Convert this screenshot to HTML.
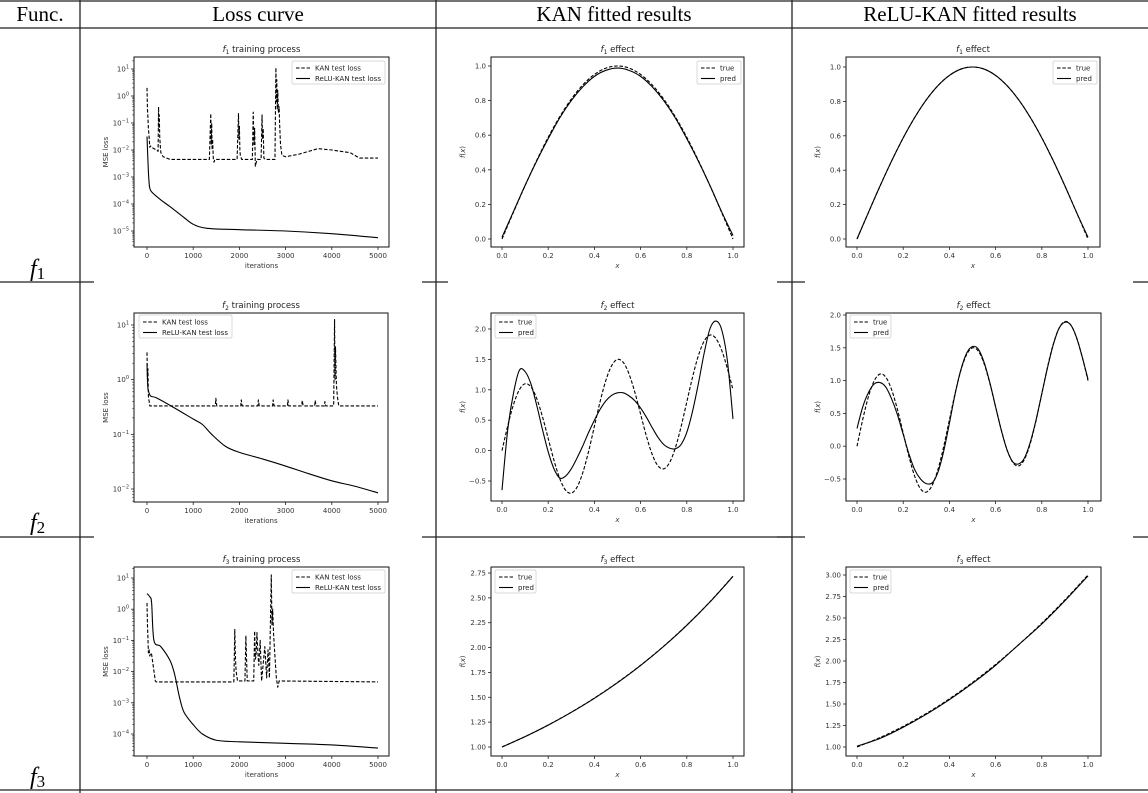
<!DOCTYPE html>
<html><head><meta charset="utf-8">
<style>
html,body{margin:0;padding:0;background:#fff;}
svg{display:block;font-family:"DejaVu Sans","Liberation Sans",sans-serif;}
.hdr{font-family:"Liberation Serif",serif;font-size:21px;fill:#000;}
.fn{font-family:"Liberation Serif",serif;font-style:italic;font-size:24px;fill:#000;}
</style></head>
<body>
<svg id="chart" width="1148" height="793" viewBox="0 0 1148 793" xmlns="http://www.w3.org/2000/svg">
<g stroke="#222" stroke-width="1.3">
<line x1="0" y1="1" x2="1148" y2="1"/>
<line x1="0" y1="28" x2="1148" y2="28"/>
<line x1="0" y1="790" x2="1148" y2="790"/>
<line x1="80" y1="0" x2="80" y2="793"/>
<line x1="436" y1="0" x2="436" y2="793"/>
<line x1="792" y1="0" x2="792" y2="793"/>
<line x1="0" y1="282" x2="94" y2="282"/>
<line x1="422" y1="282" x2="448" y2="282"/>
<line x1="777" y1="282" x2="805" y2="282"/>
<line x1="1133" y1="282" x2="1148" y2="282"/>
<line x1="0" y1="537" x2="94" y2="537"/>
<line x1="422" y1="537" x2="792" y2="537"/>
<line x1="777" y1="537" x2="805" y2="537"/>
<line x1="1133" y1="537" x2="1148" y2="537"/>
</g>
<text class="hdr" x="40" y="21" text-anchor="middle">Func.</text>
<text class="hdr" x="258" y="21" text-anchor="middle">Loss curve</text>
<text class="hdr" x="614" y="21" text-anchor="middle">KAN fitted results</text>
<text class="hdr" x="970" y="21" text-anchor="middle">ReLU-KAN fitted results</text>
<text class="fn" x="30" y="276">f<tspan font-style="normal" font-size="17" dy="3">1</tspan></text>
<text class="fn" x="30" y="530">f<tspan font-style="normal" font-size="17" dy="3">2</tspan></text>
<text class="fn" x="30" y="784">f<tspan font-style="normal" font-size="17" dy="3">3</tspan></text>
</svg>
<script>
// ---------- data ----------
const xs21 = [0,0.05,0.1,0.15,0.2,0.25,0.3,0.35,0.4,0.45,0.5,0.55,0.6,0.65,0.7,0.75,0.8,0.85,0.9,0.95,1];
const xs41 = [0,0.025,0.05,0.075,0.1,0.125,0.15,0.175,0.2,0.225,0.25,0.275,0.3,0.325,0.35,0.375,0.4,0.425,0.45,0.475,0.5,0.525,0.55,0.575,0.6,0.625,0.65,0.675,0.7,0.725,0.75,0.775,0.8,0.825,0.85,0.875,0.9,0.925,0.95,0.975,1];
const xs11 = [0,0.1,0.2,0.3,0.4,0.5,0.6,0.7,0.8,0.9,1];
const f1True = [0,0.156,0.309,0.454,0.588,0.707,0.809,0.891,0.951,0.988,1,0.988,0.951,0.891,0.809,0.707,0.588,0.454,0.309,0.156,0];
const f1KanPred = [0.01,0.16,0.31,0.45,0.58,0.70,0.80,0.88,0.94,0.975,0.988,0.975,0.94,0.88,0.80,0.70,0.58,0.45,0.31,0.16,0.02];
const f1ReluPred = [0,0.156,0.309,0.454,0.588,0.707,0.809,0.891,0.951,0.988,1,0.988,0.951,0.891,0.809,0.707,0.588,0.454,0.309,0.156,0.01];
const f2True = [0,0.41,0.76,1.0,1.1,1.05,0.86,0.56,0.2,-0.16,-0.46,-0.65,-0.7,-0.6,-0.36,-0.01,0.4,0.81,1.16,1.4,1.5,1.45,1.26,0.96,0.6,0.24,-0.06,-0.25,-0.3,-0.2,0.04,0.39,0.8,1.21,1.56,1.8,1.9,1.85,1.66,1.36,1.0];
const f2KanPred = [-0.65,0.35,0.95,1.32,1.3,1.1,0.75,0.35,-0.02,-0.3,-0.45,-0.42,-0.3,-0.12,0.08,0.3,0.5,0.68,0.82,0.91,0.95,0.95,0.9,0.82,0.7,0.55,0.38,0.22,0.1,0.04,0.03,0.1,0.3,0.65,1.1,1.6,2.0,2.13,2.0,1.5,0.52];
const f2ReluPred = [0.27,0.6,0.82,0.95,0.97,0.9,0.72,0.48,0.18,-0.12,-0.36,-0.5,-0.57,-0.56,-0.4,-0.08,0.35,0.8,1.17,1.42,1.52,1.48,1.28,0.97,0.6,0.24,-0.06,-0.24,-0.27,-0.18,0.06,0.4,0.8,1.2,1.55,1.8,1.89,1.85,1.66,1.36,1.02];
const f3KanTrue = [1,1.105,1.221,1.35,1.492,1.649,1.822,2.014,2.226,2.46,2.718];
const f3KanPred = [1,1.104,1.22,1.349,1.49,1.647,1.82,2.012,2.224,2.458,2.716];
const f3ReluTrue = [1,1.11,1.24,1.39,1.56,1.75,1.96,2.19,2.44,2.71,3.0];
const f3ReluPred = [1.01,1.1,1.23,1.38,1.55,1.74,1.95,2.19,2.43,2.7,2.99];

const l1Iter = [0,10,20,30,45,60,80,100,150,200,240,250,258,266,275,290,300,350,500,1000,1350,1380,1390,1400,1410,1420,1435,1450,1470,1950,1980,1990,2000,2010,2020,2050,2280,2300,2315,2330,2345,2380,2470,2490,2500,2515,2530,2560,2770,2790,2800,2810,2820,2830,2845,2860,2870,2890,2920,3000,3300,3700,4000,4400,4600,5000];
const l1Kan = [0.3,-0.5,-0.8,-1.2,-1.5,-1.9,-1.85,-1.9,-1.95,-2.0,-2.05,-0.4,-1.2,-0.7,-1.5,-1.9,-2.1,-2.25,-2.35,-2.35,-2.35,-0.65,-1.8,-1.0,-2.0,-1.6,-2.3,-2.45,-2.35,-2.35,-0.65,-1.6,-1.1,-2.0,-2.2,-2.35,-2.35,-0.6,-1.8,-1.2,-2.6,-2.35,-2.35,-0.7,-1.6,-1.2,-2.3,-2.35,-2.35,1.05,-0.2,0.6,-0.5,0.2,-0.6,-0.4,-1.0,-1.8,-2.2,-2.25,-2.15,-1.95,-2.0,-2.1,-2.3,-2.3];
const l1ReluIter = [0,30,50,60,100,300,500,800,1000,1300,2000,3000,4000,5000];
const l1Relu = [-1.5,-2.8,-3.3,-3.4,-3.55,-3.85,-4.1,-4.5,-4.75,-4.9,-4.95,-5.0,-5.1,-5.25];

const l2Iter = [0,10,20,30,60,100,1480,1490,1510,2030,2040,2060,2400,2410,2430,2720,2730,2750,3040,3050,3070,3350,3360,3380,3630,3640,3660,3840,3850,3870,4040,4060,4070,4080,4100,4120,4150,5000];
const l2Kan = [0.5,0.0,0.2,-0.3,-0.48,-0.48,-0.48,-0.34,-0.48,-0.48,-0.37,-0.48,-0.48,-0.37,-0.48,-0.48,-0.37,-0.48,-0.48,-0.37,-0.48,-0.48,-0.38,-0.48,-0.48,-0.38,-0.48,-0.48,-0.4,-0.48,-0.48,1.1,0.0,0.6,-0.1,-0.3,-0.48,-0.48];
const l2ReluIter = [0,15,30,80,200,500,1000,1200,1400,1700,2000,2500,3000,3500,4000,4500,5000];
const l2Relu = [0.3,-0.1,-0.2,-0.3,-0.33,-0.47,-0.72,-0.82,-1.0,-1.22,-1.33,-1.45,-1.58,-1.72,-1.85,-1.95,-2.07];

const l3Iter = [0,10,20,30,45,60,80,100,180,200,1880,1900,1915,1930,1960,2120,2140,2170,2310,2330,2345,2360,2380,2400,2420,2450,2480,2550,2590,2620,2650,2690,2705,2720,2740,2760,2800,2830,2860,5000];
const l3Kan = [0.2,-0.5,-0.9,-1.4,-1.3,-1.5,-1.4,-1.45,-2.3,-2.33,-2.33,-0.65,-1.6,-2.0,-2.3,-2.3,-0.85,-2.3,-2.3,-0.7,-1.6,-1.5,-0.75,-1.4,-1.8,-1.0,-2.3,-1.2,-2.2,-1.3,-2.2,1.1,-0.5,0.0,-0.8,-1.3,-2.2,-2.5,-2.3,-2.33];
const l3ReluIter = [0,60,100,150,300,500,600,700,800,1000,1200,1500,2000,3000,4000,5000];
const l3Relu = [0.5,0.4,0.2,-1.0,-1.2,-1.65,-2.1,-2.8,-3.3,-3.7,-4.0,-4.2,-4.25,-4.3,-4.35,-4.45];

const lossXTicks = [0,1000,2000,3000,4000,5000];
const row1LossYTicks = [1,0,-1,-2,-3,-4,-5];
const row2LossYTicks = [1,0,-1,-2];
const row3LossYTicks = [1,0,-1,-2,-3,-4];
const effXTicks = [0,0.2,0.4,0.6,0.8,1.0];
const eff1YTicks = [0,0.2,0.4,0.6,0.8,1.0];
const eff2YTicks = [-0.5,0,0.5,1.0,1.5,2.0];
const eff3KanYTicks = [1.0,1.25,1.5,1.75,2.0,2.25,2.5,2.75];
const eff3ReluYTicks = [1.0,1.25,1.5,1.75,2.0,2.25,2.5,2.75,3.0];

// ---------- drawing ----------
const NS = 'http://www.w3.org/2000/svg';
const svg = document.getElementById('chart');
function mk(tag, attrs, parent){
  const e = document.createElementNS(NS, tag);
  for (const k in attrs) e.setAttribute(k, attrs[k]);
  (parent||svg).appendChild(e);
  return e;
}
function lin(d0,d1,p0,p1){ return v => p0 + (v-d0)*(p1-p0)/(d1-d0); }
function fmt(v, dec){ const s = v.toFixed(dec); return v<0 ? '\u2212'+s.slice(1) : s; }

function smoothPath(px, py){
  let d = 'M'+px[0].toFixed(2)+','+py[0].toFixed(2);
  for (let i=0;i<px.length-1;i++){
    const x0=px[Math.max(i-1,0)], y0=py[Math.max(i-1,0)];
    const x1=px[i], y1=py[i], x2=px[i+1], y2=py[i+1];
    const x3=px[Math.min(i+2,px.length-1)], y3=py[Math.min(i+2,px.length-1)];
    d += ' C'+(x1+(x2-x0)/6).toFixed(2)+','+(y1+(y2-y0)/6).toFixed(2)+' '+(x2-(x3-x1)/6).toFixed(2)+','+(y2-(y3-y1)/6).toFixed(2)+' '+x2.toFixed(2)+','+y2.toFixed(2);
  }
  return d;
}

function drawPlot(c){
  const g = mk('g', {});
  
  
  const sx = lin(c.xd[0], c.xd[1], c.xp[0], c.xp[1]);
  const sy = lin(c.yd[0], c.yd[1], c.yp[0], c.yp[1]);
  // title
  const t = mk('text', {x:(c.box[0]+c.box[2])/2, y:c.box[1]-5, 'text-anchor':'middle', 'font-size':'8.5', fill:'#222'}, g);
  
  
  const tf = mk('tspan', {'font-style':'italic'}, t); tf.textContent = 'f';
  const ts = mk('tspan', {'font-size':'6', dy:'2'}, t); ts.textContent = c.fidx;
  const tr = mk('tspan', {dy:'-2'}, t); tr.textContent = ' ' + c.title;
  // x ticks
  const xa = mk('g', {}, g);
  
  
  c.xticks.forEach(v=>{
    const x = sx(v);
    mk('line', {x1:x, x2:x, y1:c.box[3], y2:c.box[3]+3, stroke:'#222', 'stroke-width':'0.8'}, xa);
    const tl = mk('text', {x:x, y:c.box[3]+11, 'text-anchor':'middle', 'font-size':'7', fill:'#333'}, xa);
    
    
    tl.textContent = c.log ? String(v) : v.toFixed(1);
  });
  const xl = mk('text', {x:(c.box[0]+c.box[2])/2, y:c.box[3]+21, 'text-anchor':'middle', 'font-size':'7', fill:'#333', 'font-style': c.log?'normal':'italic'}, xa);
  
  
  xl.textContent = c.xlabel;
  // y ticks
  const ya = mk('g', {}, g);
  
  
  c.yticks.forEach(v=>{
    const y = sy(v);
    mk('line', {x1:c.box[0]-3, x2:c.box[0], y1:y, y2:y, stroke:'#222', 'stroke-width':'0.8'}, ya);
    const tl = mk('text', {x:c.box[0]-5, y:y+2.5, 'text-anchor':'end', 'font-size':'7', fill:'#333'}, ya);
    
    
    if (c.log){
      tl.textContent = '10';
      const sp = mk('tspan', {'font-size':'5', dy:'-3'}, tl);
      sp.textContent = v<0 ? '\u2212'+(-v) : String(v);
    } else tl.textContent = fmt(v, c.ydec);
  });
  if (c.log){
    const lo = Math.floor(c.yd[1]) , hi = Math.ceil(c.yd[0]);
    for (let d=Math.floor(Math.min(c.yd[0],c.yd[1]))-1; d<=Math.max(c.yd[0],c.yd[1])+1; d++){
      for (let m=2;m<=9;m++){
        const lv = d + Math.log10(m);
        const y = sy(lv);
        if (y > c.box[1] && y < c.box[3]) mk('line', {x1:c.box[0]-1.8, x2:c.box[0], y1:y, y2:y, stroke:'#222', 'stroke-width':'0.6'}, ya);
      }
    }
  }
  const yl = mk('text', {transform:'translate('+(c.box[0]-(c.log?26:26))+','+((c.box[1]+c.box[3])/2)+') rotate(-90)', 'text-anchor':'middle', 'font-size':'7', fill:'#333'}, ya);
  
  
  if (c.log) yl.textContent = 'MSE loss';
  else { const a = mk('tspan', {'font-style':'italic'}, yl); a.textContent='f'; const b = mk('tspan', {}, yl); b.textContent='('; const cc = mk('tspan', {'font-style':'italic'}, yl); cc.textContent='x'; const dd = mk('tspan', {}, yl); dd.textContent=')'; }
  // clip
  const cid = 'clip-'+c.name;
  const cp = mk('clipPath', {id:cid}, g);
  mk('rect', {x:c.box[0], y:c.box[1], width:c.box[2]-c.box[0], height:c.box[3]-c.box[1]}, cp);
  const sg = mk('g', {'clip-path':'url(#'+cid+')'}, g);
  c.series.forEach(s=>{
    const px = s.x.map(sx), py = s.y.map(sy);
    let d;
    if (s.smooth) d = smoothPath(px, py);
    else d = px.map((x,i)=>(i?'L':'M')+x.toFixed(2)+','+py[i].toFixed(2)).join(' ');
    const p = mk('path', {d:d, fill:'none', stroke:'#000', 'stroke-width':'1.1', 'stroke-dasharray': s.dash?'3.5,1.8':'none', 'stroke-linejoin':'round'}, sg);
    
    
  });
  // frame
  const fr = mk('rect', {x:c.box[0], y:c.box[1], width:c.box[2]-c.box[0], height:c.box[3]-c.box[1], fill:'none', stroke:'#111', 'stroke-width':'1'}, g);
  
  
  // legend
  const L = c.legend;
  const lg = mk('g', {}, g);
  
  
  mk('rect', {x:L.x, y:L.y, width:L.w, height:23, rx:1.5, fill:'#fff', stroke:'#ccc', 'stroke-width':'0.7'}, lg);
  L.labels.forEach((lab,i)=>{
    const y = L.y + 7 + i*10.5;
    mk('line', {x1:L.x+4, x2:L.x+18, y1:y, y2:y, stroke:'#000', 'stroke-width':'1.1', 'stroke-dasharray': i===0?'3.5,1.8':'none'}, lg);
    const tx = mk('text', {x:L.x+23, y:y+2.5, 'font-size':'7', fill:'#222'}, lg);
    
    
    tx.textContent = lab;
  });
}

const lossLeg = ['KAN test loss','ReLU-KAN test loss'];
const effLeg = ['true','pred'];

// Row 1
drawPlot({name:'f1-loss-plot', fidx:'1', title:'training process', log:true, box:[134,57,389,247], xd:[0,5000], xp:[147,378], yd:[1,-5], yp:[69,231], xticks:lossXTicks, yticks:row1LossYTicks, xlabel:'iterations',
  series:[{name:'kan-loss-line', x:l1Iter, y:l1Kan, dash:true},{name:'relu-kan-loss-line', x:l1ReluIter, y:l1Relu, smooth:true}],
  legend:{x:292, y:61, w:93, labels:lossLeg}});
drawPlot({name:'f1-kan-effect-plot', fidx:'1', title:'effect', log:false, box:[491,57,744,247], xd:[0,1], xp:[502,733], yd:[0,1], yp:[239,66], xticks:effXTicks, yticks:eff1YTicks, ydec:1, xlabel:'x',
  series:[{name:'true-line', x:xs21, y:f1True, dash:true, smooth:true},{name:'pred-line', x:xs21, y:f1KanPred, smooth:true}],
  legend:{x:697, y:61, w:44, labels:effLeg}});
drawPlot({name:'f1-relu-kan-effect-plot', fidx:'1', title:'effect', log:false, box:[846,57,1100,247], xd:[0,1], xp:[857,1088], yd:[0,1], yp:[239,67], xticks:effXTicks, yticks:eff1YTicks, ydec:1, xlabel:'x',
  series:[{name:'true-line', x:xs21, y:f1True, dash:true, smooth:true},{name:'pred-line', x:xs21, y:f1ReluPred, smooth:true}],
  legend:{x:1053, y:61, w:44, labels:effLeg}});
// Row 2
drawPlot({name:'f2-loss-plot', fidx:'2', title:'training process', log:true, box:[134,313,388,502], xd:[0,5000], xp:[147,378], yd:[1,-2], yp:[325,489], xticks:lossXTicks, yticks:row2LossYTicks, xlabel:'iterations',
  series:[{name:'kan-loss-line', x:l2Iter, y:l2Kan, dash:true},{name:'relu-kan-loss-line', x:l2ReluIter, y:l2Relu, smooth:true}],
  legend:{x:139, y:315, w:93, labels:lossLeg}});
drawPlot({name:'f2-kan-effect-plot', fidx:'2', title:'effect', log:false, box:[491,313,744,501], xd:[0,1], xp:[502,733], yd:[-0.5,2], yp:[481,329], xticks:effXTicks, yticks:eff2YTicks, ydec:1, xlabel:'x',
  series:[{name:'true-line', x:xs41, y:f2True, dash:true, smooth:true},{name:'pred-line', x:xs41, y:f2KanPred, smooth:true}],
  legend:{x:495, y:315, w:41, labels:effLeg}});
drawPlot({name:'f2-relu-kan-effect-plot', fidx:'2', title:'effect', log:false, box:[846,313,1101,501], xd:[0,1], xp:[857,1088], yd:[-0.5,2], yp:[479,315], xticks:effXTicks, yticks:eff2YTicks, ydec:1, xlabel:'x',
  series:[{name:'true-line', x:xs41, y:f2True, dash:true, smooth:true},{name:'pred-line', x:xs41, y:f2ReluPred, smooth:true}],
  legend:{x:850, y:315, w:41, labels:effLeg}});
// Row 3
drawPlot({name:'f3-loss-plot', fidx:'3', title:'training process', log:true, box:[134,567,389,756], xd:[0,5000], xp:[147,378], yd:[1,-4], yp:[578,734], xticks:lossXTicks, yticks:row3LossYTicks, xlabel:'iterations',
  series:[{name:'kan-loss-line', x:l3Iter, y:l3Kan, dash:true},{name:'relu-kan-loss-line', x:l3ReluIter, y:l3Relu, smooth:true}],
  legend:{x:292, y:570, w:93, labels:lossLeg}});
drawPlot({name:'f3-kan-effect-plot', fidx:'3', title:'effect', log:false, box:[491,567,744,756], xd:[0,1], xp:[502,733], yd:[1,2.75], yp:[747,573], xticks:effXTicks, yticks:eff3KanYTicks, ydec:2, xlabel:'x',
  series:[{name:'true-line', x:xs11, y:f3KanTrue, dash:true, smooth:true},{name:'pred-line', x:xs11, y:f3KanPred, smooth:true}],
  legend:{x:495, y:570, w:41, labels:effLeg}});
drawPlot({name:'f3-relu-kan-effect-plot', fidx:'3', title:'effect', log:false, box:[846,567,1101,756], xd:[0,1], xp:[857,1088], yd:[1,3], yp:[747,575], xticks:effXTicks, yticks:eff3ReluYTicks, ydec:2, xlabel:'x',
  series:[{name:'true-line', x:xs11, y:f3ReluTrue, dash:true, smooth:true},{name:'pred-line', x:xs11, y:f3ReluPred, smooth:true}],
  legend:{x:850, y:570, w:41, labels:effLeg}});
</script>
</body></html>
